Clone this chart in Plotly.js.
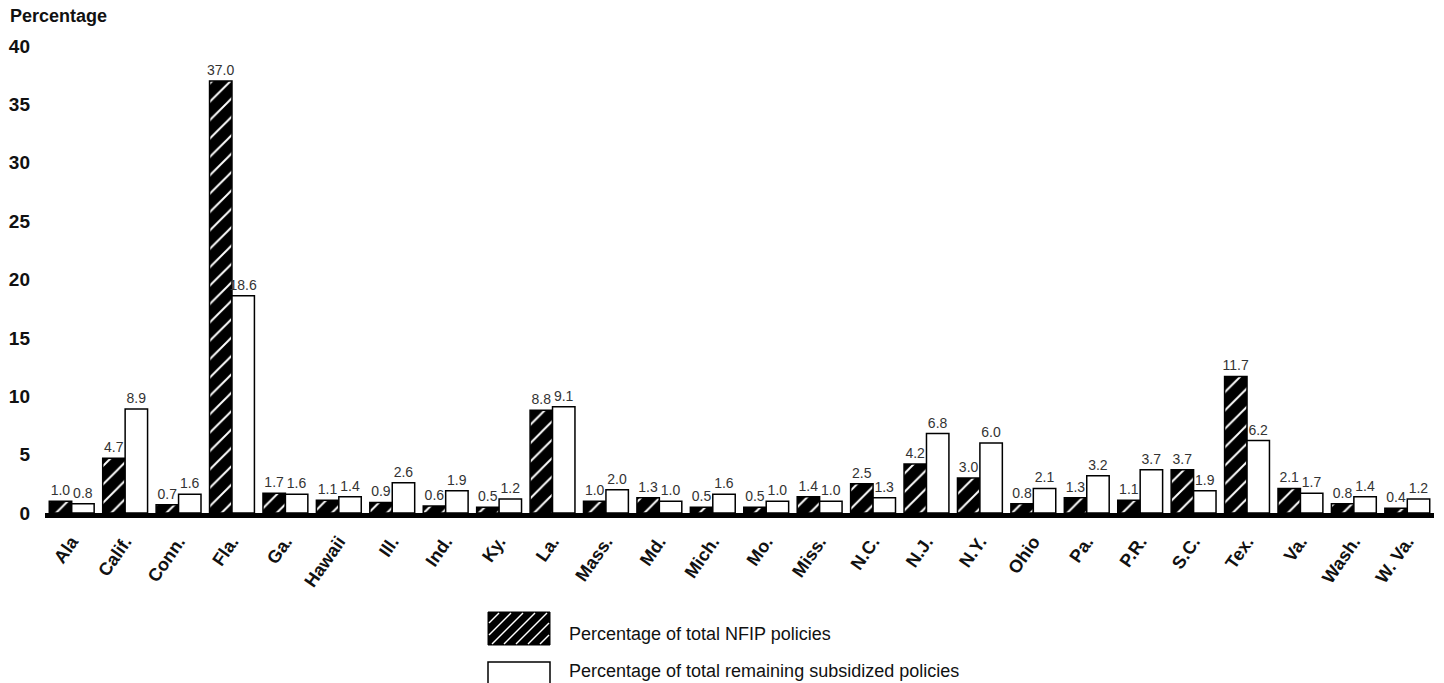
<!DOCTYPE html>
<html>
<head>
<meta charset="utf-8">
<script src="https://cdn.plot.ly/plotly-3.0.1.min.js"></script>
<style>html,body{margin:0;padding:0;background:#fff;}#chart{width:1444px;height:683px;}</style>
</head>
<body>
<div id="chart"></div>
<script>
const states = ["Ala","Calif.","Conn.","Fla.","Ga.","Hawaii","Ill.","Ind.","Ky.","La.","Mass.","Md.","Mich.","Mo.","Miss.","N.C.","N.J.","N.Y.","Ohio","Pa.","P.R.","S.C.","Tex.","Va.","Wash.","W. Va."];
const nfipShare = [1.0,4.7,0.7,37.0,1.7,1.1,0.9,0.6,0.5,8.8,1.0,1.3,0.5,0.5,1.4,2.5,4.2,3.0,0.8,1.3,1.1,3.7,11.7,2.1,0.8,0.4];
const subsidizedShare = [0.8,8.9,1.6,18.6,1.6,1.4,2.6,1.9,1.2,9.1,2.0,1.0,1.6,1.0,1.0,1.3,6.8,6.0,2.1,3.2,3.7,1.9,6.2,1.7,1.4,1.2];
const seriesNames = ["Percentage of total NFIP policies","Percentage of total remaining subsidized policies"];
const yTicks = [0,5,10,15,20,25,30,35,40];

const W = 1444, H = 683;
const M = {l:45, r:10, t:46, b:170};
const pw = W - M.l - M.r, ph = H - M.t - M.b;
const px = x => (x - M.l) / pw;
const py = y => (H - M.b - y) / ph;

const FAM = "Liberation Sans, Arial, sans-serif";
const labelFont = {family:FAM, size:14, color:"#333"};

const traces = [
  {
    type:"bar", x:states, y:nfipShare, name:seriesNames[0],
    marker:{color:"black", line:{color:"black", width:1.5},
      pattern:{shape:"/", bgcolor:"black", fgcolor:"white", size:13, solidity:0.15, fillmode:"replace"}},
    text:nfipShare.map(v=>v.toFixed(1)), textposition:"outside", textfont:labelFont,
    constraintext:"none", cliponaxis:false, showlegend:false, hoverinfo:"x+y"
  },
  {
    type:"bar", x:states, y:subsidizedShare, name:seriesNames[1],
    marker:{color:"white", line:{color:"black", width:1.5}},
    text:subsidizedShare.map(v=>v.toFixed(1)), textposition:"outside", textfont:labelFont,
    constraintext:"none", cliponaxis:false, showlegend:false, hoverinfo:"x+y"
  }
];

// custom legend swatches
const shapes = [];
const bx0 = 488, bx1 = 550, by0 = 612, by1 = 645;
shapes.push({type:"rect", xref:"paper", yref:"paper", x0:px(bx0), x1:px(bx1), y0:py(by1), y1:py(by0),
  fillcolor:"black", line:{color:"black", width:1}});
const hgt = by1 - by0;
for (let s = bx0 - hgt; s < bx1; s += 12) {
  let xa = s, ya = by1, xb = s + hgt, yb = by0;
  if (xa < bx0) { ya = by1 - (bx0 - xa); xa = bx0; }
  if (xb > bx1) { yb = by0 + (xb - bx1); xb = bx1; }
  if (xb - xa < 2) continue;
  shapes.push({type:"line", xref:"paper", yref:"paper", x0:px(xa+1), y0:py(ya-1), x1:px(xb-1), y1:py(yb+1),
    line:{color:"white", width:1.5}});
}
shapes.push({type:"rect", xref:"paper", yref:"paper", x0:px(bx0), x1:px(bx1), y0:py(695), y1:py(662),
  fillcolor:"white", line:{color:"black", width:1.5}});

const annotations = [
  {text:"Percentage", xref:"paper", yref:"paper", x:px(8), y:1, xanchor:"left", yanchor:"bottom", yshift:18,
    showarrow:false, font:{family:FAM, size:18, color:"#111", weight:"bold"}},
  {text:seriesNames[0], xref:"paper", yref:"paper", x:px(567), y:py(634), xanchor:"left", yanchor:"middle",
    showarrow:false, font:{family:FAM, size:18, color:"#111"}},
  {text:seriesNames[1], xref:"paper", yref:"paper", x:px(567), y:py(671), xanchor:"left", yanchor:"middle",
    showarrow:false, font:{family:FAM, size:18, color:"#111"}}
];

const layout = {
  width:W, height:H,
  margin:M,
  paper_bgcolor:"white", plot_bgcolor:"white",
  barmode:"group", bargap:0.16, bargroupgap:0,
  showlegend:false,
  xaxis:{type:"category", tickangle:-55, showgrid:false, zeroline:false,
    showline:true, linecolor:"black", linewidth:5, ticks:"", ticklabelstandoff:6,
    tickfont:{family:FAM, size:18, color:"#111", weight:"bold"}},
  yaxis:{range:[0,40], tickvals:yTicks, showgrid:false, zeroline:false, showline:false, ticks:"",
    ticklabelstandoff:14,
    tickfont:{family:FAM, size:19, color:"#111", weight:"bold"}},
  shapes:shapes, annotations:annotations
};

Plotly.newPlot("chart", traces, layout, {displayModeBar:false, staticPlot:true});
</script>
</body>
</html>
